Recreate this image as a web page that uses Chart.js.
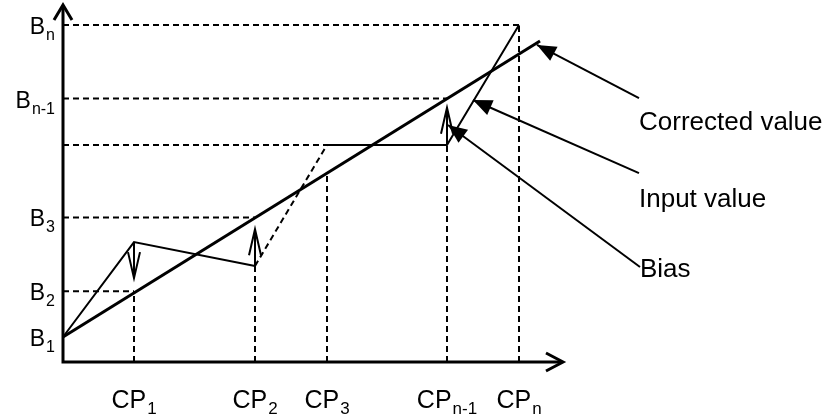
<!DOCTYPE html>
<html>
<head>
<meta charset="utf-8">
<title>Bias correction</title>
<script src="https://cdn.jsdelivr.net/npm/chart.js@4.4.0/dist/chart.umd.min.js"></script>
<style>
    html, body { margin: 0; padding: 0; background: #fff; }
    #wrap { width: 830px; height: 417px; }
</style>
</head>
<body>
<div id="wrap"><canvas id="biasChart" width="830" height="417"></canvas></div>
<script>
// check points on the horizontal axis
const cpNames = [['CP', '1'], ['CP', '2'], ['CP', '3'], ['CP', 'n-1'], ['CP', 'n']];
const cpX = [1.42, 3.84, 5.28, 7.68, 9.12];

// levels marked on the vertical axis
const bNames = [['B', '1'], ['B', '2'], ['B', '3'], ['B', 'n-1'], ['B', 'n']];
const bY = [0.70, 1.98, 4.05, 7.38, 9.44];

// raw input and the corrected straight line
const inputX = [0, 1.42, 3.84, 5.28, 7.68, 9.12];
const inputY = [0.70, 3.36, 2.69, 6.08, 6.08, 9.44];
const correctedX = [0, 9.54];
const correctedY = [0.70, 8.99];

// dashed guides
const hGuideY = [1.98, 4.05, 6.08, 7.38, 9.44];
const hGuideEnd = [1.42, 3.84, 5.28, 7.68, 9.12];
const vGuideTop = [1.98, 2.69, 5.29, 6.08, 9.44];

// bias arrows at the check points
const biasX = [1.42, 3.84, 7.68];
const biasFrom = [3.36, 2.69, 6.08];
const biasTo = [2.35, 3.72, 7.12];

// callouts
const noteText = ['Corrected value', 'Input value', 'Bias'];
const noteFromX = [11.52, 11.52, 11.54];
const noteFromY = [7.39, 5.29, 2.66];
const noteTipX = [9.48, 8.20, 7.70];
const noteTipY = [8.88, 7.34, 6.64];
const noteTextY = [6.50, 4.34, 2.38];

const FONT = '"Liberation Sans", Arial, Helvetica, sans-serif';

function seg(points, width, dash) {
    return {
        data: points,
        showLine: true,
        borderColor: '#000',
        borderWidth: width,
        borderDash: dash || [],
        pointRadius: 0,
        fill: false,
        clip: false
    };
}

const datasets = [];

hGuideY.forEach(function(y, i) {
    datasets.push(seg([{x: 0, y: y}, {x: hGuideEnd[i], y: y}], 2, [6, 4]));
});
cpX.forEach(function(x, i) {
    datasets.push(seg([{x: x, y: 0}, {x: x, y: vGuideTop[i]}], 2, [6, 4]));
});

// input line, the stretch between CP2 and CP3 is dashed
const inputSet = seg(inputX.map((x, i) => ({x: x, y: inputY[i]})), 2);
inputSet.segment = {
    borderDash: c => (c.p0DataIndex === 2 ? [6, 4] : undefined)
};
datasets.push(inputSet);

datasets.push(seg(correctedX.map((x, i) => ({x: x, y: correctedY[i]})), 3));

biasX.forEach(function(x, i) {
    datasets.push(seg([{x: x, y: biasFrom[i]}, {x: x, y: biasTo[i]}], 2));
});

noteText.forEach(function(t, i) {
    datasets.push(seg([{x: noteFromX[i], y: noteFromY[i]}, {x: noteTipX[i], y: noteTipY[i]}], 2));
});

function openHead(ctx, x0, y0, x1, y1, len, half, width) {
    const a = Math.atan2(y1 - y0, x1 - x0);
    const ca = Math.cos(a), sa = Math.sin(a);
    ctx.beginPath();
    ctx.moveTo(x1 - len * ca - half * sa, y1 - len * sa + half * ca);
    ctx.lineTo(x1, y1);
    ctx.lineTo(x1 - len * ca + half * sa, y1 - len * sa - half * ca);
    ctx.lineWidth = width;
    ctx.lineJoin = 'miter';
    ctx.stroke();
}

function solidHead(ctx, x0, y0, x1, y1, len, half) {
    const a = Math.atan2(y1 - y0, x1 - x0);
    const ca = Math.cos(a), sa = Math.sin(a);
    ctx.beginPath();
    ctx.moveTo(x1, y1);
    ctx.lineTo(x1 - len * ca - half * sa, y1 - len * sa + half * ca);
    ctx.lineTo(x1 - len * ca + half * sa, y1 - len * sa - half * ca);
    ctx.closePath();
    ctx.fill();
}

// text with a lowered subscript, anchored left / center / right
function subText(ctx, parts, x, y, size, subSize, align) {
    ctx.font = size + 'px ' + FONT;
    const w1 = ctx.measureText(parts[0]).width;
    ctx.font = subSize + 'px ' + FONT;
    const w2 = ctx.measureText(parts[1]).width;
    const total = w1 + 1 + w2;
    let left = x;
    if (align === 'right') left = x - total;
    if (align === 'center') left = x - total / 2;
    ctx.textAlign = 'left';
    ctx.textBaseline = 'alphabetic';
    ctx.font = size + 'px ' + FONT;
    ctx.fillText(parts[0], left, y);
    ctx.font = subSize + 'px ' + FONT;
    ctx.fillText(parts[1], left + w1 + 1, y + 6);
}

const diagramPlugin = {
    id: 'diagram',
    afterDatasetsDraw(chart) {
        const ctx = chart.ctx;
        const xs = chart.scales.x, ys = chart.scales.y;
        const X = v => xs.getPixelForValue(v);
        const Y = v => ys.getPixelForValue(v);
        ctx.save();
        ctx.strokeStyle = '#000';
        ctx.fillStyle = '#000';

        // axes with open arrow heads
        const ox = X(0), oy = Y(0), tx = X(10), ty = Y(10);
        ctx.lineWidth = 3;
        ctx.lineCap = 'butt';
        ctx.beginPath();
        ctx.moveTo(ox, oy + 1.5);
        ctx.lineTo(ox, ty + 1);
        ctx.moveTo(ox - 1.5, oy);
        ctx.lineTo(tx - 1, oy);
        ctx.stroke();
        openHead(ctx, ox, oy, ox, ty, 15, 9, 3);
        openHead(ctx, ox, oy, tx, oy, 17, 9, 3);

        // bias arrows
        biasX.forEach(function(x, i) {
            openHead(ctx, X(x), Y(biasFrom[i]), X(x), Y(biasTo[i]), 26, 6, 2);
        });

        // callout heads
        noteText.forEach(function(t, i) {
            solidHead(ctx, X(noteFromX[i]), Y(noteFromY[i]), X(noteTipX[i]), Y(noteTipY[i]), 19, 8);
        });

        // labels
        bNames.forEach(function(p, i) {
            subText(ctx, p, ox - 8, Y(bY[i]) + 9, 23, 16, 'right');
        });
        cpNames.forEach(function(p, i) {
            subText(ctx, p, X(cpX[i]), oy + 46, 25, 17, 'center');
        });
        ctx.font = '26px ' + FONT;
        ctx.textAlign = 'left';
        noteText.forEach(function(t, i) {
            ctx.fillText(t, X(noteFromX[i]), Y(noteTextY[i]));
        });
        ctx.restore();
    }
};

new Chart(document.getElementById('biasChart'), {
    type: 'scatter',
    data: { datasets: datasets },
    options: {
        responsive: false,
        animation: false,
        devicePixelRatio: 1,
        layout: { padding: { left: 63, right: 17, top: 5, bottom: 55 } },
        scales: {
            x: { type: 'linear', min: 0, max: 15, display: false },
            y: { type: 'linear', min: 0, max: 10, display: false }
        },
        elements: { line: { tension: 0 } },
        plugins: { legend: { display: false }, tooltip: { enabled: false } }
    },
    plugins: [diagramPlugin]
});
</script>
</body>
</html>
